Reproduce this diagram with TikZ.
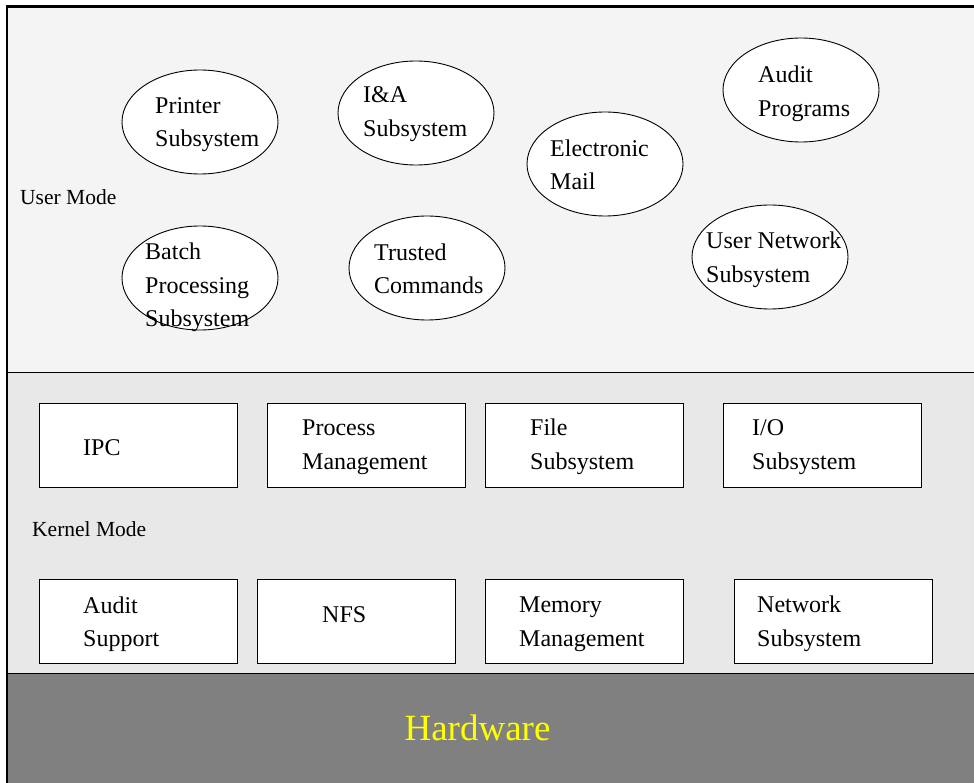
\documentclass[tikz,border=0pt]{standalone}
\usepackage{fontspec}
\setmainfont{Liberation Serif}
\usetikzlibrary{shapes.geometric}
\definecolor{userbg}{HTML}{F4F4F4}
\definecolor{kernbg}{HTML}{E8E8E8}
\definecolor{hwbg}{HTML}{808080}
\definecolor{hwtext}{HTML}{FFFF00}
\begin{document}
\begin{tikzpicture}[x=1pt,y=-1pt,
  bubble/.style={draw=black, fill=white, ellipse, minimum width=156pt, minimum height=104pt, inner sep=0pt, line width=0.9pt},
  kbox/.style={draw=black, fill=white, rectangle, minimum width=198pt, minimum height=84pt, inner sep=0pt, line width=0.9pt},
  lbl/.style={anchor=west, align=left, inner sep=0pt, font=\fontsize{24}{33.5}\selectfont},
  modelbl/.style={anchor=west, inner sep=0pt, font=\fontsize{21.5}{25}\selectfont}]
\useasboundingbox (0,0) rectangle (974,783);
% layers
\fill[userbg] (7,7) rectangle (974,372);
\fill[kernbg] (7,372) rectangle (974,673);
\fill[hwbg] (7,673) rectangle (974,783);
\draw[line width=1pt] (7,372) -- (974,372);
\draw[line width=1pt] (7,673) -- (974,673);
\draw[line width=2.5pt] (5.75,6.5) -- (974,6.5);
\draw[line width=2.5pt] (7,6.5) -- (7,783);
% user mode ellipses
\node[bubble] (printer) at (200,122) {};
\node[bubble] (ia) at (416,113) {};
\node[bubble] (email) at (605,164) {};
\node[bubble] (audprog) at (801,90) {};
\node[bubble] (usernet) at (770,257) {};
\node[bubble] (trusted) at (427,268) {};
\node[bubble] (batch) at (200,278) {};
\node[lbl] (tprinter) at (155,124.5) {Printer\\Subsystem};
\node[lbl] (tia) at (363,114) {I\&A\\Subsystem};
\node[lbl] (temail) at (550,165) {Electronic\\Mail};
\node[lbl] (taudprog) at (758,94) {Audit\\Programs};
\node[lbl] (tusernet) at (706,260) {User Network\\Subsystem};
\node[lbl] (ttrusted) at (374,269) {Trusted\\Commands};
\node[lbl] (tbatch) at (145,287.5) {Batch\\Processing\\Subsystem};
\node[modelbl] (usermode) at (20,197) {User Mode};
% kernel boxes
\node[kbox] (ipc) at (138,445) {};
\node[kbox] (proc) at (366.5,445) {};
\node[kbox] (file) at (584,445) {};
\node[kbox] (io) at (822,445) {};
\node[kbox] (audsup) at (138,621) {};
\node[kbox] (nfs) at (356,621) {};
\node[kbox] (mem) at (584,621) {};
\node[kbox] (net) at (833,621) {};
\node[lbl] (tipc) at (83,448) {IPC};
\node[lbl] (tproc) at (302,447) {Process\\Management};
\node[lbl] (tfile) at (530,447) {File\\Subsystem};
\node[lbl] (tio) at (752,447) {I/O\\Subsystem};
\node[lbl] (taudsup) at (83,624) {Audit\\Support};
\node[lbl] (tnfs) at (322,615) {NFS};
\node[lbl] (tmem) at (519,624) {Memory\\Management};
\node[lbl] (tnet) at (757,624) {Network\\Subsystem};
\node[modelbl] (kernmode) at (32,529) {Kernel Mode};
% hardware
\node[inner sep=0pt, text=hwtext, font=\fontsize{37}{41}\selectfont] (hw) at (477.5,728) {Hardware};
\end{tikzpicture}
\end{document}
